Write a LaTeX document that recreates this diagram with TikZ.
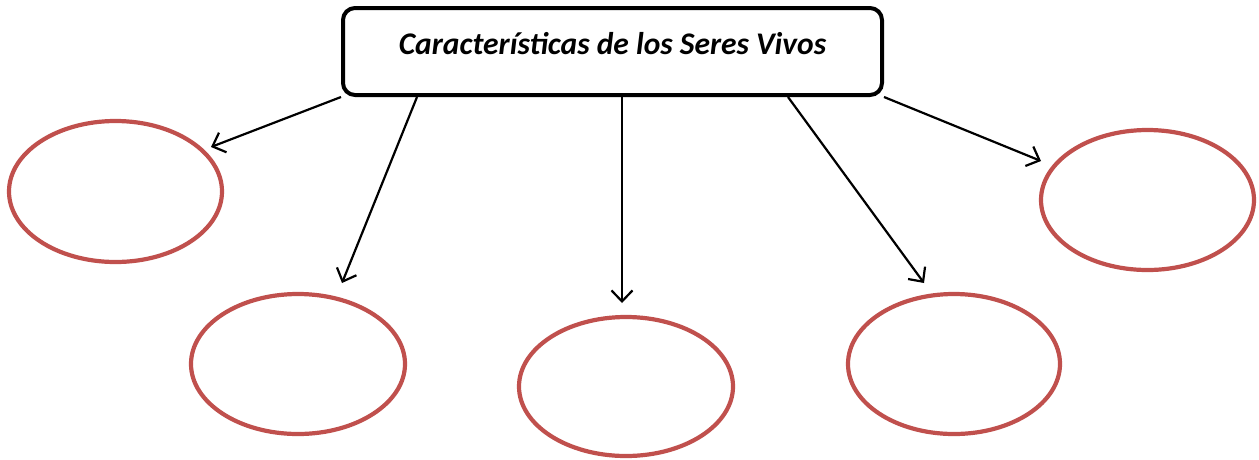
\documentclass[tikz,border=0pt]{standalone}
\usepackage{fontspec}
\setmainfont{Carlito}
\usetikzlibrary{shapes.geometric,arrows.meta,calc}
\definecolor{ellred}{HTML}{C0504D}
\begin{document}
\begin{tikzpicture}[x=1pt,y=-1pt,
  titlebox/.style={draw=black,line width=4pt,rounded corners=12pt,
    minimum width=539pt,minimum height=87pt,inner sep=0pt,
    text height=20pt,text depth=15pt,
    font=\fontsize{31.5}{34}\selectfont\bfseries\itshape},
  oval/.style={ellipse,draw=ellred,line width=4.2pt,inner sep=0pt},
  arr/.style={line width=2.2pt,-{Straight Barb[length=11pt,width=21pt,line width=2.2pt]}}]
\useasboundingbox (0,0) rectangle (1259,459);
\node[titlebox] (box) at (612.5,51.5) {Características de los Seres Vivos\hspace{7pt}};
\node[oval,minimum width=213pt,minimum height=141pt] (e1) at (115.5,191.5) {};
\node[oval,minimum width=214pt,minimum height=140pt] (e2) at (298,364) {};
\node[oval,minimum width=214pt,minimum height=139pt] (e3) at (626,386.5) {};
\node[oval,minimum width=212pt,minimum height=140pt] (e4) at (954,364) {};
\node[oval,minimum width=213pt,minimum height=140pt] (e5) at (1147.5,200) {};
\coordinate (t1) at (211,147);
\coordinate (t2) at (342,283);
\coordinate (t3) at (622,303);
\coordinate (t4) at (924,283);
\coordinate (t5) at (1041,161);
\draw[arr] (box.south west) -- (t1);
\draw[arr] ($(box.south west)+(76,0)$) -- (t2);
\draw[arr] ($(box.south)+(9.5,0)$) -- (t3);
\draw[arr] ($(box.south east)+(-96,0)$) -- (t4);
\draw[arr] (box.south east) -- (t5);
\end{tikzpicture}
\end{document}
